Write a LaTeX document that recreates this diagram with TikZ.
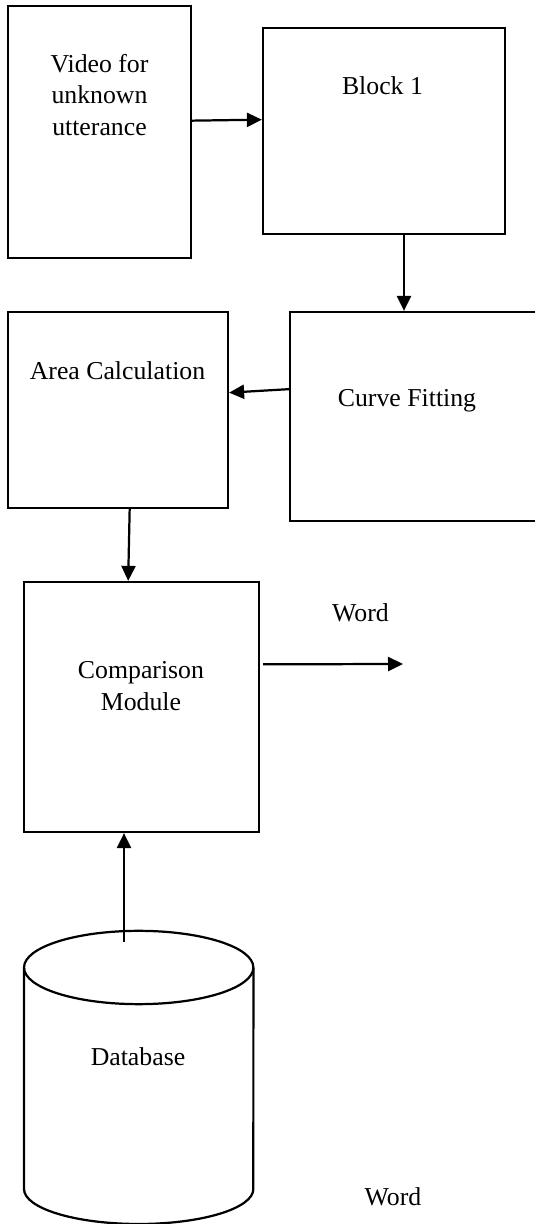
\documentclass[tikz,border=0pt]{standalone}
\usepackage{fontspec}
\setmainfont{Liberation Serif}
\usetikzlibrary{arrows.meta}

\begin{document}
\begin{tikzpicture}
			[x=0.015cm,y=0.015cm,line width=0.95pt,
			blk/.style={draw,rectangle,inner sep=0pt},
			txt/.style={align=center,inner sep=0pt,font=\fontsize{11}{13.6}\selectfont},
			arr/.style={-{Triangle[length=6.4pt,width=6pt]}}]
			\useasboundingbox (0,0) rectangle (535,1224);
			
			\node[blk,minimum width=2.745cm,minimum height=3.78cm] (video) at (99.5,1092) {};
			\node[blk,minimum width=3.63cm,minimum height=3.09cm] (block) at (384,1093) {};
			\node[blk,minimum width=3.30cm,minimum height=2.94cm] (area) at (118,814) {};
			\node[blk,minimum width=3.705cm,minimum height=3.135cm] (curve) at (413.5,807.5) {};
			\node[blk,minimum width=3.525cm,minimum height=3.75cm] (comp) at (141.5,517) {};
			
			\node[txt] (videot) at (99.5,1129) {Video for\\unknown\\utterance};
			\node[txt] (blockt) at (382.5,1138) {Block 1};
			\node[txt] (areat) at (117.5,853) {Area Calculation};
			\node[txt] (curvet) at (407,823) {Curve Fitting};
			\node[txt] (compt) at (141,538) {Comparison\\Module};
			\node[txt] (word1) at (360.5,611) {Word};
			\node[txt] (dbt) at (138,167) {Database};
			\node[txt] (word2) at (393,27) {Word};
			
			% database drum
			\draw (24,256) -- (24,35) arc (180:360:1.72cm and 0.525cm) -- (253.4,256);
			\draw (138.7,256.5) ellipse (1.72cm and 0.55cm);
			\coordinate (dbtop) at (124,282);
			\coordinate (out) at (403,560);
			
			\draw[arr] ([yshift=0.17cm]video.east) -- ([yshift=0.17cm]block.west);
			\draw[arr] ([xshift=0.3cm]block.south) -- ([xshift=0.3cm]block.south |- curve.north);
			\draw[arr] ([yshift=0.41cm]curve.west) -- ([yshift=0.26cm]area.east);
			\draw[arr] ([xshift=0.175cm]area.south) -- ([xshift=-0.2cm]comp.north);
			\draw[arr] ([xshift=0.045cm,yshift=0.64cm]comp.east) -- (out);
			\draw[arr] (dbtop) -- (dbtop |- comp.south);
			\end{tikzpicture}
\end{document}
